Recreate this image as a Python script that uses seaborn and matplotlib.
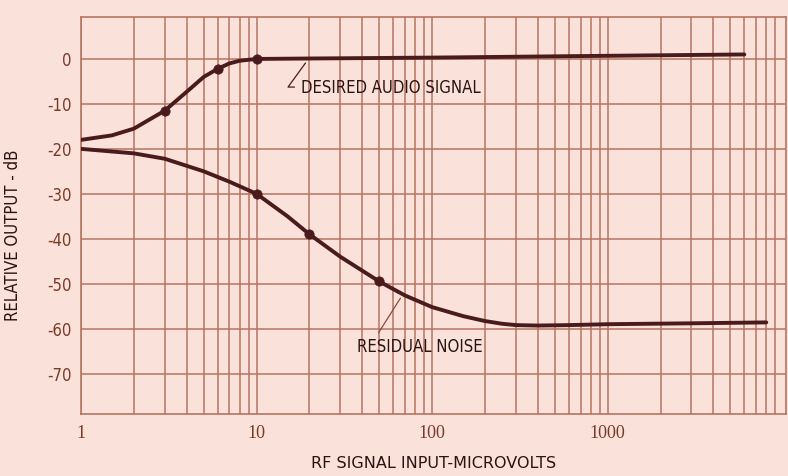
import matplotlib
matplotlib.use("Agg")
import matplotlib.pyplot as plt
import matplotlib.ticker as mticker
import seaborn as sns
import pandas as pd

# Curve readings (RF input in microvolts, output in dB)
audio_uv = [1, 1.5, 2, 3, 4, 5, 6, 7, 8, 10, 20, 100, 1000, 6000]
audio_db = [-18, -17, -15.5, -11.5, -7.3, -4.0, -2.2, -1.0, -0.4, 0, 0.1, 0.3, 0.7, 1.0]
audio_pts_uv = [3, 6, 10]
audio_pts_db = [-11.5, -2.2, 0]

noise_uv = [1, 2, 3, 5, 7, 10, 15, 20, 30, 50, 70, 100, 150, 200, 250, 300, 400, 600,
            1000, 3000, 8000]
noise_db = [-20, -21, -22.2, -25, -27.3, -30, -35, -39, -44, -49.5, -52.6, -55.2, -57.2,
            -58.3, -58.9, -59.2, -59.3, -59.2, -59.0, -58.8, -58.6]
noise_pts_uv = [10, 20, 50]
noise_pts_db = [-30, -39, -49.5]

x_ticks = [1, 10, 100, 1000]
y_ticks = [0, -10, -20, -30, -40, -50, -60, -70]

BG = "#fae1da"
GRID = "#b57462"
INK = "#4a1b1d"
LABEL = "#7a3a2a"
TEXT = "#2a1412"

sns.set_style("ticks", {"axes.facecolor": BG, "figure.facecolor": BG})
plt.rcParams["font.family"] = ["DejaVu Sans"]
plt.rcParams["font.stretch"] = "condensed"

fig = plt.figure(figsize=(7.88, 4.76), dpi=100)
ax = fig.add_axes([0.1028, 0.130, 0.895, 0.834])

audio = pd.DataFrame({"uv": audio_uv, "db": audio_db})
noise = pd.DataFrame({"uv": noise_uv, "db": noise_db})

line_kw = dict(color=INK, lw=2.8, zorder=4, solid_capstyle="round", solid_joinstyle="round")
sns.lineplot(data=audio, x="uv", y="db", ax=ax, **line_kw)
sns.lineplot(data=noise, x="uv", y="db", ax=ax, **line_kw)
sns.scatterplot(x=audio_pts_uv, y=audio_pts_db, ax=ax, color=INK, s=45,
                edgecolor=INK, zorder=5)
sns.scatterplot(x=noise_pts_uv, y=noise_pts_db, ax=ax, color=INK, s=45,
                edgecolor=INK, zorder=5)

ax.set_xscale("log")
ax.set_xlim(1, 10400)
ax.set_ylim(-79, 9.3)

ax.xaxis.set_major_locator(mticker.FixedLocator(x_ticks))
ax.xaxis.set_major_formatter(mticker.FixedFormatter([str(v) for v in x_ticks]))
ax.xaxis.set_minor_locator(mticker.LogLocator(base=10, subs=range(2, 10), numticks=20))
ax.xaxis.set_minor_formatter(mticker.NullFormatter())
ax.set_yticks(y_ticks)
ax.set_yticklabels([str(v) for v in y_ticks])

ax.grid(True, which="both", axis="x", color=GRID, lw=1.1)
ax.grid(True, which="major", axis="y", color=GRID, lw=1.1)
ax.set_axisbelow(True)
for s in ax.spines.values():
    s.set_color(GRID)
    s.set_linewidth(1.2)
ax.tick_params(which="both", length=0, colors=LABEL)
ax.tick_params(axis="y", pad=7, labelsize=12)
ax.tick_params(axis="x", pad=8, labelsize=13)
for lab in ax.get_xticklabels():
    lab.set_family(["Liberation Serif", "DejaVu Serif"])

ax.set_xlabel("RF SIGNAL INPUT-MICROVOLTS", fontsize=11.5, color=TEXT, labelpad=10,
              stretch="normal")
ax.set_ylabel("RELATIVE OUTPUT - dB", fontsize=12, color=TEXT, labelpad=14)
ax.yaxis.set_label_coords(-0.083, 0.45)

# labels with leader lines
ax.annotate("DESIRED AUDIO SIGNAL", xy=(19, -0.9), xytext=(-3.6, -11.5),
            textcoords="offset points", fontsize=12, color=TEXT, ha="left", va="top",
            arrowprops=dict(arrowstyle="-", color=INK, lw=0.9, relpos=(0, 0.55),
                            shrinkA=2, shrinkB=0,
                            connectionstyle="angle,angleA=0,angleB=54,rad=0"))
ax.annotate("RESIDUAL NOISE", xy=(66, -53.2), xytext=(-31, -29),
            textcoords="offset points", fontsize=12, color=TEXT, ha="left", va="top",
            arrowprops=dict(arrowstyle="-", color="#8a4a3a", lw=0.9, relpos=(0.14, 1.0),
                            shrinkA=2, shrinkB=0))

fig.savefig("out.png", dpi=100, facecolor=BG)
